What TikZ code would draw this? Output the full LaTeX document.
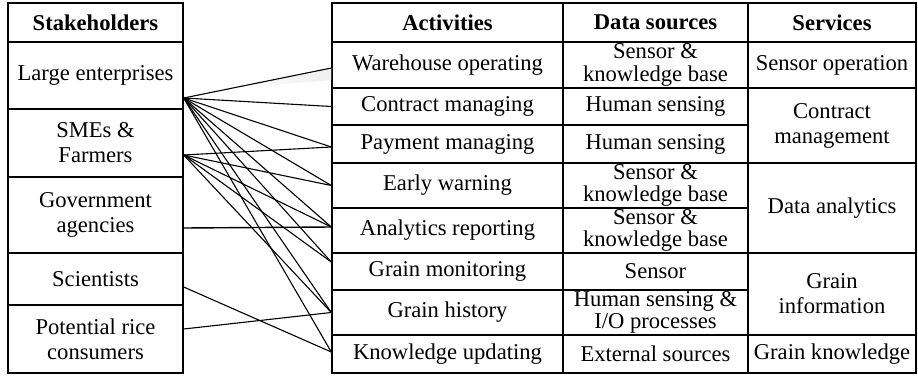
\documentclass[tikz,border=0pt]{standalone}
\usepackage{fontspec}
\setmainfont{Liberation Serif}
\usetikzlibrary{calc}
\begin{document}
\begin{tikzpicture}[x=1pt,y=-1pt,
  cell/.style={draw, line width=1.4pt, rectangle, inner sep=0pt, align=center,
    font=\fontsize{22.6}{25}\selectfont},
  tight/.style={font=\fontsize{22.6}{22.5}\selectfont},
  hcell/.style={cell, font=\fontsize{22.6}{25}\selectfont\bfseries},
  link/.style={line width=1.1pt, black}]
\useasboundingbox (0,0) rectangle (918,375);
% ---- Stakeholders
\node[hcell, minimum width=175pt, minimum height=39pt] (sh) at (95.5,22.5) {Stakeholders};
\node[cell, minimum width=175pt, minimum height=67pt] (large) at (95.5,75.5) {Large enterprises};
\node[cell, minimum width=175pt, minimum height=68pt] (sme) at (95.5,143) {SMEs \&\\Farmers};
\node[cell, minimum width=175pt, minimum height=76pt] (gov) at (95.5,215) {Government\\agencies};
\node[cell, minimum width=175pt, minimum height=52pt] (sci) at (95.5,279) {Scientists};
\node[cell, minimum width=175pt, minimum height=68pt] (pot) at (95.5,339) {Potential rice\\consumers};
% ---- Activities
\node[hcell, minimum width=231pt, minimum height=39pt] (act) at (447.5,22.5) {Activities};
\node[cell, minimum width=231pt, minimum height=46pt] (wh) at (447.5,65) {Warehouse operating};
\node[cell, minimum width=231pt, minimum height=37pt] (con) at (447.5,106.5) {Contract managing};
\node[cell, minimum width=231pt, minimum height=38pt] (pay) at (447.5,144) {Payment managing};
\node[cell, minimum width=231pt, minimum height=45pt] (early) at (447.5,185.5) {Early warning};
\node[cell, minimum width=231pt, minimum height=45pt] (ana) at (447.5,230.5) {Analytics reporting};
\node[cell, minimum width=231pt, minimum height=37pt] (mon) at (447.5,271.5) {Grain monitoring};
\node[cell, minimum width=231pt, minimum height=45pt] (hist) at (447.5,312.5) {Grain history};
\node[cell, minimum width=231pt, minimum height=38pt] (know) at (447.5,354) {Knowledge updating};
% ---- Data sources
\node[hcell, minimum width=185pt, minimum height=39pt] (ds) at (655.5,22.5) {Data sources};
\node[cell, tight, minimum width=185pt, minimum height=46pt] (d1) at (655.5,65) {Sensor \&\\knowledge base};
\node[cell, minimum width=185pt, minimum height=37pt] (d2) at (655.5,106.5) {Human sensing};
\node[cell, minimum width=185pt, minimum height=38pt] (d3) at (655.5,144) {Human sensing};
\node[cell, tight, minimum width=185pt, minimum height=45pt] (d4) at (655.5,185.5) {Sensor \&\\knowledge base};
\node[cell, tight, minimum width=185pt, minimum height=45pt] (d5) at (655.5,230.5) {Sensor \&\\knowledge base};
\node[cell, minimum width=185pt, minimum height=37pt] (d6) at (655.5,271.5) {Sensor};
\node[cell, tight, minimum width=185pt, minimum height=45pt] (d7) at (655.5,312.5) {Human sensing \&\\I/O processes};
\node[cell, minimum width=185pt, minimum height=38pt] (d8) at (655.5,354) {External sources};
% ---- Services
\node[hcell, minimum width=168pt, minimum height=39pt] (sv) at (832,22.5) {Services};
\node[cell, minimum width=168pt, minimum height=46pt] (s1) at (832,65) {Sensor operation};
\node[cell, minimum width=168pt, minimum height=75pt] (s2) at (832,125.5) {Contract\\management};
\node[cell, minimum width=168pt, minimum height=90pt] (s3) at (832,208) {Data analytics};
\node[cell, minimum width=168pt, minimum height=82pt] (s4) at (832,294) {Grain\\information};
\node[cell, minimum width=168pt, minimum height=38pt] (s5) at (832,354) {Grain knowledge};
% ---- connector end points
\coordinate (pL) at ([yshift=-22.5pt]large.east);
\coordinate (pS) at ([yshift=-12pt]sme.east);
\coordinate (pG) at ([yshift=-13pt]gov.east);
\coordinate (pC) at ([yshift=-8pt]sci.east);
\coordinate (pP) at ([yshift=10pt]pot.east);
\coordinate (tW) at ([yshift=-3pt]wh.west);
\coordinate (tC) at (con.west);
\coordinate (tP) at ([yshift=-3pt]pay.west);
\coordinate (tE) at (early.west);
\coordinate (tA) at ([yshift=3.5pt]ana.west);
\coordinate (tM) at ([yshift=9.5pt]mon.west);
\coordinate (tH) at (hist.west);
\coordinate (tK) at ([yshift=2pt]know.west);
% soft shadow under the first link
\shade[left color=white, right color=black!9, opacity=0.7]
  ($(pL)!0.3!(tW)$) -- (tW) -- ([yshift=-12pt]tW) -- cycle;
% ---- connectors
\foreach \t in {tW,tC,tP,tE,tA,tM,tH,tK} \draw[link] (pL) -- (\t);
\foreach \t in {tP,tE,tA,tM,tH} \draw[link] (pS) -- (\t);
\draw[link, line width=1.4pt] (pG) -- (tA);
\draw[link] (pC) -- (tK);
\draw[link] (pP) -- (tH);
\end{tikzpicture}
\end{document}
